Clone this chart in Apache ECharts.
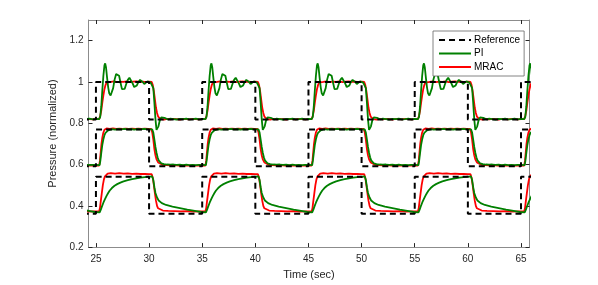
<!DOCTYPE html>
<html>
<head>
<meta charset="utf-8">
<script src="https://cdn.jsdelivr.net/npm/echarts@6/dist/echarts.min.js"></script>
<style>html,body{margin:0;padding:0;background:#fff}#c{width:598px;height:285px}</style>
</head>
<body>
<div id="c"></div>
<script>
const xTicks = [25, 30, 35, 40, 45, 50, 55, 60, 65];
const yTicks = [0.2, 0.4, 0.6, 0.8, 1, 1.2];
const refSwitchTimes = [25, 30, 35, 40, 45, 50, 55, 60, 65];
const refTop = [0.818, 1.0];
const refMid = [0.592, 0.77];
const refBot = [0.361, 0.541];
const cycleStarts = [15, 25, 35, 45, 55, 65];

// one period of each response, [seconds after reference rise, value]
const topPI = [[0,0.821],[0.3,0.82],[0.4,0.83],[0.5,0.88],[0.6,0.96],[0.7,1.03],[0.8,1.08],[0.87,1.09],[0.95,1.07],[1.05,1.02],[1.15,0.975],[1.25,0.945],[1.38,0.934],[1.5,0.94],[1.62,0.97],[1.75,1.01],[1.9,1.038],[2.04,1.045],[2.18,1.03],[2.32,0.995],[2.45,0.965],[2.57,0.956],[2.7,0.966],[2.85,0.99],[3.0,1.01],[3.15,1.02],[3.3,1.012],[3.45,0.993],[3.6,0.975],[3.72,0.972],[3.85,0.983],[4.0,1.0],[4.15,1.01],[4.25,1.012],[4.4,1.0],[4.55,0.99],[4.7,0.993],[4.85,1.003],[5.0,1.001],[5.15,0.997],[5.3,0.998],[5.4,0.97],[5.5,0.9],[5.6,0.82],[5.7,0.768],[5.78,0.765],[5.88,0.785],[6.0,0.812],[6.15,0.828],[6.3,0.832],[6.45,0.826],[6.6,0.819],[6.8,0.818],[7.0,0.822],[7.3,0.82],[7.6,0.818],[7.9,0.821],[8.2,0.82],[8.5,0.822],[8.8,0.819],[9.1,0.82],[9.4,0.822],[9.7,0.819],[10,0.821]];
const topMRAC = [[0,0.82],[0.3,0.82],[0.4,0.835],[0.5,0.86],[0.6,0.9],[0.7,0.935],[0.8,0.965],[0.9,0.985],[1.0,0.997],[1.15,1.003],[1.4,1.0],[1.7,1.003],[2.0,0.999],[2.3,1.002],[2.6,1.0],[2.9,1.003],[3.2,0.999],[3.5,1.001],[3.8,1.003],[4.1,1.0],[4.4,1.002],[4.7,0.999],[5.0,1.001],[5.25,1.0],[5.35,0.985],[5.45,0.955],[5.55,0.915],[5.65,0.875],[5.75,0.85],[5.85,0.832],[5.95,0.824],[6.1,0.82],[6.4,0.818],[6.7,0.821],[7.0,0.819],[7.3,0.821],[7.6,0.82],[7.9,0.818],[8.2,0.821],[8.5,0.82],[8.8,0.819],[9.1,0.821],[9.4,0.82],[9.7,0.819],[10,0.82]];
const midPI = [[0,0.598],[0.35,0.597],[0.42,0.62],[0.5,0.655],[0.6,0.695],[0.7,0.722],[0.8,0.742],[0.9,0.753],[1.0,0.76],[1.15,0.765],[1.3,0.768],[1.5,0.771],[1.8,0.769],[2.1,0.772],[2.4,0.77],[2.7,0.773],[3.0,0.77],[3.3,0.772],[3.6,0.769],[3.9,0.772],[4.2,0.77],[4.5,0.773],[4.8,0.771],[5.1,0.77],[5.3,0.77],[5.4,0.755],[5.5,0.72],[5.6,0.685],[5.7,0.657],[5.8,0.635],[5.9,0.62],[6.0,0.612],[6.15,0.606],[6.4,0.602],[6.7,0.6],[7.0,0.599],[7.3,0.6],[7.6,0.598],[7.9,0.599],[8.2,0.597],[8.5,0.599],[8.8,0.597],[9.1,0.598],[9.4,0.597],[9.7,0.598],[10,0.598]];
const midMRAC = [[0,0.595],[0.3,0.595],[0.38,0.62],[0.45,0.66],[0.52,0.7],[0.6,0.73],[0.7,0.755],[0.8,0.768],[0.9,0.773],[1.0,0.775],[1.3,0.773],[1.6,0.775],[1.9,0.772],[2.2,0.774],[2.5,0.772],[2.8,0.774],[3.1,0.772],[3.4,0.774],[3.7,0.772],[4.0,0.774],[4.3,0.773],[4.6,0.774],[4.9,0.772],[5.2,0.772],[5.3,0.755],[5.4,0.72],[5.5,0.675],[5.6,0.645],[5.7,0.625],[5.85,0.61],[6.0,0.603],[6.3,0.598],[6.6,0.597],[7.0,0.596],[7.4,0.597],[7.8,0.595],[8.2,0.596],[8.6,0.595],[9.0,0.596],[9.4,0.595],[9.8,0.596],[10,0.595]];
const botPI = [[0,0.37],[0.35,0.368],[0.45,0.38],[0.55,0.395],[0.7,0.415],[0.85,0.432],[1.0,0.448],[1.15,0.462],[1.3,0.474],[1.5,0.486],[1.75,0.497],[2.0,0.505],[2.3,0.512],[2.6,0.518],[3.0,0.524],[3.4,0.529],[3.8,0.533],[4.2,0.536],[4.6,0.539],[5.0,0.541],[5.3,0.542],[5.4,0.525],[5.5,0.49],[5.6,0.462],[5.75,0.44],[5.9,0.426],[6.2,0.413],[6.6,0.404],[7.2,0.396],[7.9,0.389],[8.6,0.382],[9.3,0.376],[9.9,0.37],[10,0.37]];
const botMRAC = [[0,0.373],[0.3,0.373],[0.38,0.39],[0.45,0.42],[0.55,0.46],[0.65,0.5],[0.75,0.528],[0.85,0.543],[0.95,0.551],[1.1,0.556],[1.4,0.558],[1.8,0.556],[2.2,0.558],[2.6,0.556],[3.0,0.557],[3.4,0.555],[3.8,0.556],[4.2,0.554],[4.6,0.555],[5.0,0.553],[5.25,0.553],[5.35,0.535],[5.45,0.5],[5.55,0.46],[5.65,0.425],[5.75,0.4],[5.85,0.388],[6.0,0.381],[6.3,0.377],[6.8,0.375],[7.4,0.374],[8.0,0.373],[8.6,0.374],[9.2,0.372],[9.8,0.373],[10,0.373]];

function tile(cycle) {
  const out = [];
  cycleStarts.forEach(s => cycle.forEach(p => out.push([s + p[0], p[1]])));
  return out;
}
function steps(levels) {
  const out = [[20, levels[0]]];
  let cur = 0;
  refSwitchTimes.forEach(t => {
    out.push([t, levels[cur]]);
    cur = 1 - cur;
    out.push([t, levels[cur]]);
  });
  out.push([70, levels[cur]]);
  return out;
}

const FONT = '"Liberation Sans", Arial, sans-serif';
const AX = '#262626';
const xmin = 24.3, xmax = 65.8, ymin = 0.2, ymax = 1.3;

function mk(name, data, color, z, dashed) {
  return {
    name, type: 'line', data, symbol: 'none', showSymbol: false, z, animation: false,
    lineStyle: { color, width: dashed ? 2 : 1.8, type: dashed ? [6, 4] : 'solid' },
    itemStyle: { color }
  };
}

const chart = echarts.init(document.getElementById('c'), null, { renderer: 'canvas' });
const baseX = {
  type: 'value', min: xmin, max: xmax,
  axisLine: { lineStyle: { color: '#8c8c8c', width: 1 } },
  splitLine: { show: false },
  axisTick: { inside: true, length: 4, customValues: xTicks, lineStyle: { color: AX } }
};
const baseY = {
  type: 'value', min: ymin, max: ymax,
  axisLine: { lineStyle: { color: '#8c8c8c', width: 1 } },
  splitLine: { show: false },
  axisTick: { inside: true, length: 4, customValues: yTicks, lineStyle: { color: AX } }
};
chart.setOption({
  animation: false,
  grid: { left: 88.5, right: 68.5, top: 20, bottom: 37, containLabel: false },
  xAxis: [
    Object.assign({}, baseX, {
      position: 'bottom',
      axisLabel: { customValues: xTicks, margin: 7, fontSize: 10, color: AX, fontFamily: FONT },
      name: 'Time (sec)', nameLocation: 'middle', nameGap: 18,
      nameTextStyle: { fontSize: 11, color: AX, fontFamily: FONT }
    }),
    Object.assign({}, baseX, { position: 'top', axisLabel: { show: false } })
  ],
  yAxis: [
    Object.assign({}, baseY, {
      position: 'left',
      axisLabel: { customValues: yTicks, margin: 5, fontSize: 10, color: AX, fontFamily: FONT },
      name: 'Pressure (normalized)', nameLocation: 'middle', nameGap: 22,
      nameTextStyle: { fontSize: 11, color: AX, fontFamily: FONT }
    }),
    Object.assign({}, baseY, { position: 'right', axisLabel: { show: false } })
  ],
  legend: {
    data: ['Reference', 'PI', 'MRAC'],
    orient: 'vertical', left: 433, top: 31,
    padding: [4, 4, 4, 5], itemGap: 3.5, itemWidth: 32, itemHeight: 10,
    borderColor: '#666', borderWidth: 0.8, backgroundColor: '#fff',
    itemStyle: { opacity: 0 },
    textStyle: { fontSize: 10, color: '#000', fontFamily: FONT, padding: [0, 0, 0, -2] }
  },
  series: [
    mk('MRAC', tile(topMRAC), '#ff0000', 2),
    mk('MRAC', tile(midMRAC), '#ff0000', 2),
    mk('MRAC', tile(botMRAC), '#ff0000', 2),
    mk('PI', tile(topPI), '#008000', 3),
    mk('PI', tile(midPI), '#008000', 3),
    mk('PI', tile(botPI), '#008000', 3),
    mk('Reference', steps(refTop), '#000000', 4, true),
    mk('Reference', steps(refMid), '#000000', 4, true),
    mk('Reference', steps(refBot), '#000000', 4, true)
  ]
});
</script>
</body>
</html>
